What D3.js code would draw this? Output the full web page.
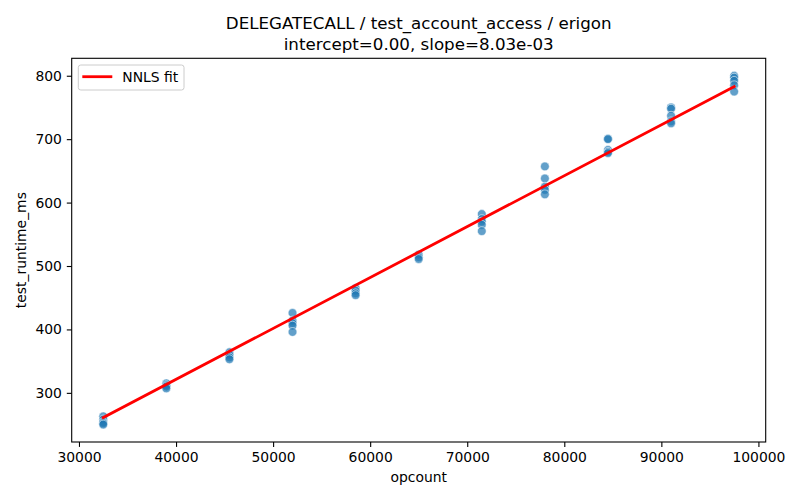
<!DOCTYPE html>
<html>
<head>
<meta charset="utf-8">
<script src="https://cdn.jsdelivr.net/npm/d3@7"></script>
<style>
	body { margin: 0; background: #fff; }
	svg text { font-family: "DejaVu Sans", sans-serif; fill: #000; }
</style>
</head>
<body>
<div id="chart" style="width:800px;height:500px"></div>
<script>
// opcount groups and the measured runtimes for each
const opcounts = [32500, 39000, 45500, 52000, 58500, 65000, 71500, 78000, 84500, 91000, 97500];
const runtimes = [
	[263, 258, 254, 252, 250],
	[315, 312, 310, 307],
	[364, 360, 356, 353],
	[426, 414, 410, 406, 396],
	[465, 461, 457, 454],
	[518, 514, 511],
	[582, 574, 570, 565, 555],
	[657, 638, 625, 620, 613],
	[701, 700, 683, 680, 678],
	[750, 748, 737, 728, 725],
	[800, 797, 792, 785, 775]
];
const intercept = 0.0;
const slope = 8.03e-3;
const titleLines = ["DELEGATECALL / test_account_access / erigon", "intercept=0.00, slope=8.03e-03"];
const xTicks = [30000, 40000, 50000, 60000, 70000, 80000, 90000, 100000];
const yTicks = [300, 400, 500, 600, 700, 800];

const margin = { top: 58.3, right: 34.3, bottom: 58, left: 71.7 };
const width = 800 - margin.left - margin.right;
const height = 500 - margin.top - margin.bottom;

const points = [];
opcounts.forEach((x, i) => runtimes[i].forEach(y => points.push({ x, y })));

// matplotlib-style 5% padding
function padded(ext) {
	const p = (ext[1] - ext[0]) * 0.05;
	return [ext[0] - p, ext[1] + p];
}

const svg = d3.select("#chart").append("svg")
	.attr("width", 800)
	.attr("height", 500);

const g = svg.append("g")
	.attr("transform", `translate(${margin.left},${margin.top})`);

const x = d3.scaleLinear().domain(padded(d3.extent(points, d => d.x))).range([0, width]);
const y = d3.scaleLinear().domain(padded(d3.extent(points, d => d.y))).range([height, 0]);

// axes
const xAxis = g.append("g")
	.attr("transform", `translate(0,${height})`)
	.call(d3.axisBottom(x).tickValues(xTicks).tickFormat(d3.format("d")).tickSize(4.9).tickPadding(4.9));
const yAxis = g.append("g")
	.call(d3.axisLeft(y).tickValues(yTicks).tickFormat(d3.format("d")).tickSize(4.9).tickPadding(4.9));
[xAxis, yAxis].forEach(a => {
	a.select(".domain").remove();
	a.selectAll("text").attr("font-size", 13.9).attr("font-family", "DejaVu Sans");
	a.selectAll("line").attr("stroke", "#000").attr("stroke-width", 1.1);
});

// scatter points
g.append("g").selectAll("circle").data(points).enter()
	.append("circle")
	.attr("cx", d => x(d.x))
	.attr("cy", d => y(d.y))
	.attr("r", 4.4)
	.attr("fill", "#1f77b4")
	.attr("fill-opacity", 0.7)
	.attr("stroke", "#fff")
	.attr("stroke-opacity", 0.7)
	.attr("stroke-width", 0.8);

// fit line
const xFit = d3.extent(opcounts);
g.append("line")
	.attr("x1", x(xFit[0])).attr("y1", y(intercept + slope * xFit[0]))
	.attr("x2", x(xFit[1])).attr("y2", y(intercept + slope * xFit[1]))
	.attr("stroke", "red")
	.attr("stroke-width", 2.8)
	.attr("stroke-linecap", "square");

// frame
g.append("rect")
	.attr("width", width).attr("height", height)
	.attr("fill", "none").attr("stroke", "#000").attr("stroke-width", 1.1);

// legend
const leg = g.append("g").attr("transform", "translate(6.6,6.7)");
leg.append("rect")
	.attr("width", 105.7).attr("height", 25)
	.attr("rx", 2.5)
	.attr("fill", "#fff").attr("fill-opacity", 0.8)
	.attr("stroke", "#ccc").attr("stroke-width", 1);
leg.append("line")
	.attr("x1", 4).attr("x2", 34).attr("y1", 11.7).attr("y2", 11.7)
	.attr("stroke", "red").attr("stroke-width", 2.8);
leg.append("text")
	.attr("x", 44).attr("y", 16.5)
	.attr("font-size", 13.9)
	.text("NNLS fit");

// titles and labels
svg.append("g").selectAll("text").data(titleLines).enter()
	.append("text")
	.attr("x", margin.left + width / 2)
	.attr("y", (d, i) => 29 + i * 20.5)
	.attr("text-anchor", "middle")
	.attr("font-size", 16.7)
	.text(d => d);

svg.append("text")
	.attr("x", margin.left + width / 2)
	.attr("y", 482)
	.attr("text-anchor", "middle")
	.attr("font-size", 13.9)
	.text("opcount");

svg.append("text")
	.attr("transform", `translate(26,${margin.top + height / 2}) rotate(-90)`)
	.attr("text-anchor", "middle")
	.attr("font-size", 13.9)
	.text("test_runtime_ms");
</script>
</body>
</html>
